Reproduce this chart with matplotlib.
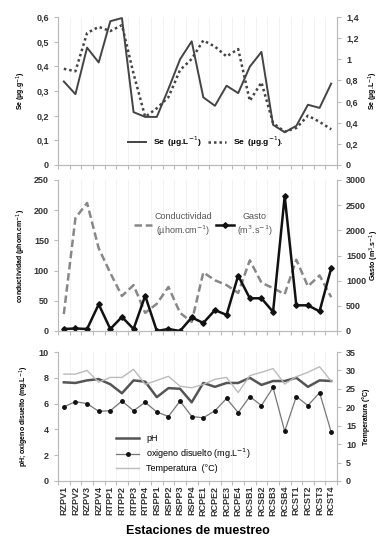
import matplotlib.pyplot as plt
from matplotlib.ticker import FuncFormatter, FixedLocator
import numpy as np

plt.rcParams['font.family'] = ['Liberation Sans', 'DejaVu Sans']

estaciones = ["RZPV1", "RZPV2", "RZPV3", "RZPV4", "RTPP1", "RTPP2", "RTPP3", "RTPP4",
              "RSPP1", "RSPP2", "RSPP3", "RSPP4", "RCPE1", "RCPE2", "RCPE3", "RCPE4",
              "RCSB1", "RCSB2", "RCSB3", "RCSB4", "RCST1", "RCST2", "RCST3", "RCST4"]

se_agua = [0.79, 0.67, 1.11, 0.97, 1.36, 1.39, 0.50, 0.455, 0.455, 0.72, 1.00, 1.17,
           0.64, 0.56, 0.75, 0.68, 0.93, 1.07, 0.38, 0.31, 0.37, 0.57, 0.54, 0.77]
se_sed = [0.39, 0.38, 0.535, 0.56, 0.543, 0.567, 0.37, 0.195, 0.23, 0.275, 0.385, 0.43,
          0.505, 0.48, 0.44, 0.47, 0.26, 0.335, 0.17, 0.135, 0.15, 0.20, 0.175, 0.145]

conductividad = [28, 187, 212, 137, 96, 58, 76, 30, 45, 73, 30, 15,
                 97, 84, 76, 63, 117, 80, 71, 61, 118, 74, 92, 56]
gasto = [40, 50, 40, 530, 40, 280, 40, 700, 0, 40, 0, 270,
         160, 415, 320, 1100, 650, 650, 380, 2680, 510, 510, 390, 1250]

ph = [7.65, 7.6, 7.8, 7.9, 7.5, 6.8, 7.8, 7.7, 6.5, 7.2, 7.15, 6.1,
      7.6, 7.3, 7.6, 7.6, 8.0, 7.45, 7.75, 7.75, 8.0, 7.3, 7.8, 7.75]
oxigeno = [5.75, 6.15, 6.0, 5.4, 5.45, 6.2, 5.45, 6.1, 5.35, 5.0, 6.2, 5.0,
           4.9, 5.45, 6.4, 5.3, 6.55, 5.85, 7.25, 3.85, 6.55, 5.85, 6.85, 3.8]
temperatura = [29.0, 29.0, 30.0, 26.8, 28.1, 28.1, 30.3, 26.2, 27.3, 28.4, 25.7, 25.3,
               26.2, 27.6, 28.1, 24.0, 28.6, 29.5, 30.5, 26.3, 28.3, 29.5, 31.0, 27.1]

x = np.arange(len(estaciones))
coma = FuncFormatter(lambda v, p: ('%g' % round(v, 2)).replace('.', ','))

fig = plt.figure(figsize=(3.83, 5.44), dpi=100)
left, width = 58 / 383, 279 / 383
ax1 = fig.add_axes([left, 1 - 165 / 544, width, 148 / 544])
ax2 = fig.add_axes([left, 1 - 331 / 544, width, 151 / 544])
ax3 = fig.add_axes([left, 1 - 481 / 544, width, 129 / 544])


def estilo(ax, axr):
    for a in (ax, axr):
        for s in a.spines.values():
            s.set_color('#bbbbbb')
            s.set_linewidth(0.8)
        a.spines['top'].set_visible(False)
        a.tick_params(axis='y', colors='#bbbbbb', labelcolor='#333333', labelsize=6.5,
                      length=3, width=0.8)
        for t in a.get_yticklabels():
            t.set_fontweight('bold')
    ax.set_xlim(-0.5, len(x) - 0.5)
    ax.xaxis.set_major_locator(FixedLocator(x))
    ax.xaxis.set_minor_locator(FixedLocator(np.arange(-0.5, len(x), 1)))
    ax.tick_params(axis='x', which='major', length=0)
    ax.tick_params(axis='x', which='minor', length=3, color='#bbbbbb', width=0.8)
    ax.grid(True, axis='x', which='minor', color='#f0f0f0', lw=0.6)
    ax.set_axisbelow(True)


# panel superior
ax1r = ax1.twinx()
l1, = ax1r.plot(x, se_agua, color='#444444', lw=1.4, label=r'Se  (µg.L$^{-1}$)')
l2, = ax1.plot(x, se_sed, color='#444444', lw=1.8, ls=(0, (1, 1.2)), label=r'Se  (µg.g$^{-1}$).')
ax1.set_ylim(0, 0.6)
ax1.set_yticks(np.arange(0, 0.61, 0.1))
ax1r.set_ylim(0, 1.4)
ax1r.set_yticks(np.arange(0, 1.41, 0.2))
ax1.yaxis.set_major_formatter(coma)
ax1r.yaxis.set_major_formatter(coma)
ax1.set_xticklabels([])
ax1.set_ylabel(r'Se (µg.g$^{-1}$)', fontsize=5, fontweight='bold', labelpad=6)
ax1r.set_ylabel(r'Se (µg.L$^{-1}$)', fontsize=5, fontweight='bold', labelpad=6)
estilo(ax1, ax1r)
ax1.legend(handles=[l1, l2], loc='lower center', bbox_to_anchor=(0.53, 0.06), ncol=2,
           frameon=False, fontsize=6, handlelength=2.2, columnspacing=0.8,
           prop={'weight': 'bold', 'size': 6})

# panel medio
ax2r = ax2.twinx()
l3, = ax2.plot(x, conductividad, color='#888888', lw=1.8, ls=(0, (3, 1.5)),
               label='Conductividad\n' + r'(µhom.cm$^{-1}$)')
l4, = ax2r.plot(x, gasto, color='#111111', lw=1.8, marker='D', ms=2.8,
                label='Gasto\n' + r'(m$^3$.s$^{-1}$)')
ax2.set_ylim(0, 250)
ax2.set_yticks(np.arange(0, 251, 50))
ax2r.set_ylim(0, 3000)
ax2r.set_yticks(np.arange(0, 3001, 500))
ax2.set_xticklabels([])
ax2.set_ylabel(r'conductividad (µhom.cm$^{-1}$)', fontsize=5, fontweight='bold', labelpad=4)
ax2r.set_ylabel(r'Gasto (m$^3$.s$^{-1}$)', fontsize=5, fontweight='bold', labelpad=1)
estilo(ax2, ax2r)
leg2 = ax2.legend(handles=[l3, l4], loc='upper center', bbox_to_anchor=(0.52, 0.84), ncol=2,
                  frameon=False, handlelength=2.0, columnspacing=0.4, handletextpad=0.3,
                  prop={'size': 6.5})
for t in leg2.get_texts():
    t.set_color('#555555')
    t.set_multialignment('center')

# panel inferior
ax3r = ax3.twinx()
l5, = ax3.plot(x, ph, color='#555555', lw=1.8, label='pH')
l6, = ax3.plot(x, oxigeno, color='#777777', lw=0.9, marker='o', ms=2.5, mfc='#111111',
               mec='#111111', label=r'oxigeno disuelto (mg.L$^{-1}$)')
l7, = ax3r.plot(x, temperatura, color='#bbbbbb', lw=1.0, label='Temperatura  (°C)')
ax3.set_ylim(0, 10)
ax3.set_yticks(np.arange(0, 11, 2))
ax3r.set_ylim(0, 35)
ax3r.set_yticks(np.arange(0, 36, 5))
ax3.set_ylabel(r'pH; oxigeno disuelto (mg.L$^{-1}$)', fontsize=5, fontweight='bold', labelpad=6)
ax3r.set_ylabel('Temperatura (°C)', fontsize=5, fontweight='bold', labelpad=4)
estilo(ax3, ax3r)
ax3.set_xticklabels(estaciones, rotation=90, fontsize=6.5, fontweight='bold', color='#333333')
ax3.set_xlabel('Estaciones de muestreo', fontsize=9, fontweight='bold', labelpad=6)
ax3.legend(handles=[l5, l6, l7], loc='lower center', bbox_to_anchor=(0.45, 0.0),
           frameon=False, handlelength=2.5, labelspacing=0.35, prop={'size': 6.5})

fig.savefig('out.png', dpi=100)
